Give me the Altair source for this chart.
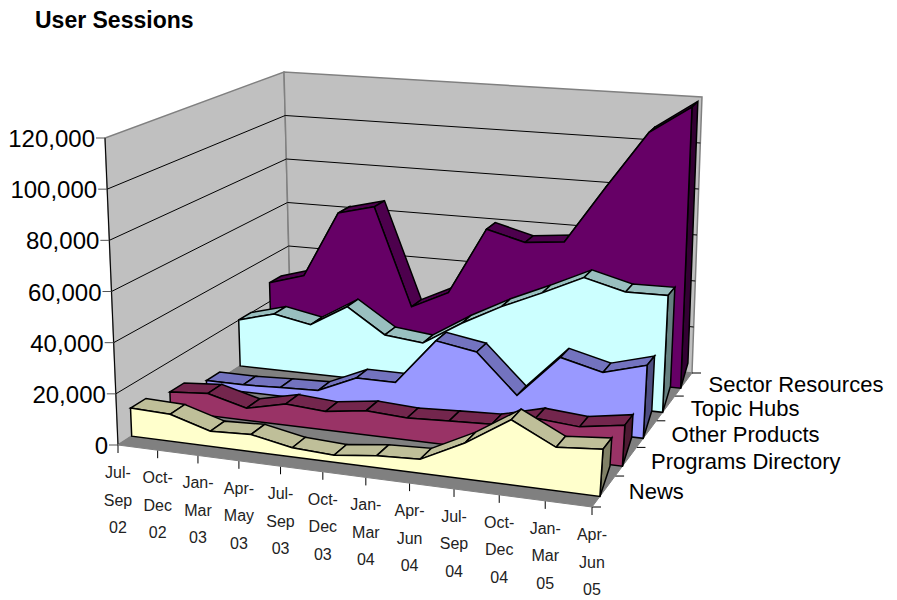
import altair as alt
import pandas as pd

# ---------- chart values ----------
quarters = [["Jul-", "Sep", "02"], ["Oct-", "Dec", "02"], ["Jan-", "Mar", "03"], ["Apr-", "May", "03"],
            ["Jul-", "Sep", "03"], ["Oct-", "Dec", "03"], ["Jan-", "Mar", "04"], ["Apr-", "Jun", "04"],
            ["Jul-", "Sep", "04"], ["Oct-", "Dec", "04"], ["Jan-", "Mar", "05"], ["Apr-", "Jun", "05"]]
series_names = ["News", "Programs Directory", "Other Products", "Topic Hubs", "Sector Resources"]
news = [11100, 10600, 5900, 6600, 3500, 2700, 4600, 5300, 13600, 24500, 16200, 17600]
programs = [7800, 9000, 4900, 8500, 7400, 9600, 8700, 9500, 10200, 14500, 13200, 15900]
other = [2970, 2950, 3600, 4170, 11200, 11150, 30100, 27300, 11400, 28700, 24500, 29200]
hubs = [20100, 24300, 21200, 30600, 20100, 18300, 28400, 37100, 44500, 52500, 48100, 48300]
sector = [28400, 33000, 62400, 66500, 23600, 31400, 60700, 56300, 58000, 83000, 107700, 119800]
all_series = [news, programs, other, hubs, sector]
y_ticks = [0, 20000, 40000, 60000, 80000, 100000, 120000]
y_max = 120000
face_cols = ["#FFFFCC", "#993366", "#9999FF", "#CCFFFF", "#660066"]
top_cols = ["#BFBF99", "#73264D", "#7373BF", "#99BFBF", "#4D004D"]
side_cols = ["#808066", "#4D1A33", "#4D4D80", "#668080", "#330033"]

# ---------- 3-D view: corners of the box as seen on the page ----------
FLB, FLT = (118, 445), (105, 138)
BLB, BLT = (291, 333), (284, 72)
FRB, FRT = (592, 507), (614, 182)
BRB, BRT = (692, 373), (702, 97)
SIDE_LIFT = 7000


def warp(t, a):
    return t / (t + (1 - t) * a) if t > 0 else 0.0


def lerp(p, q, f):
    return (p[0] + (q[0] - p[0]) * f, p[1] + (q[1] - p[1]) * f)


def project(cat, depth, value):
    u = warp(cat, 1.095)
    z = warp(depth, 0.832)
    h = value / y_max
    fb, ft = lerp(FLB, FRB, u), lerp(FLT, FRT, u)
    bb, bt = lerp(BLB, BRB, u), lerp(BLT, BRT, u)
    return lerp(lerp(fb, bb, z), lerp(ft, bt, z), h)


n = len(quarters) - 1
grids, yticks, texts = [], [], []
pid = 0


def add_poly(store, points, fill):
    global pid
    pid += 1
    for k, (c, d, v) in enumerate(points):
        x, y = project(c, d, v)
        store.append({"pid": pid, "seq": k, "x": x, "y": y, "fill": fill})


def add_line(store, p, q):
    global pid
    pid += 1
    store.append({"pid": pid, "seq": 0, "x": p[0], "y": p[1]})
    store.append({"pid": pid, "seq": 1, "x": q[0], "y": q[1]})


walls = []
add_poly(walls, [(0, 0, 0), (0, 1, 0), (0, 1, y_max), (0, 0, y_max)], "#C0C0C0")
add_poly(walls, [(0, 1, 0), (1, 1, 0), (1, 1, y_max), (0, 1, y_max)], "#C0C0C0")
floor = []
add_poly(floor, [(0, 0, 0), (1, 0, 0), (1, 1, 0), (0, 1, 0)], "#808080")

for v in y_ticks[1:-1]:
    a, b, c = project(0, 0, v), project(0, 1, v), project(1, 1, v)
    add_line(grids, a, b)
    add_line(grids, b, c)
add_line(grids, project(0, 0, 0), project(0, 0, y_max))

bodies = []
for s in range(4, -1, -1):
    vals = all_series[s]
    d0, d1 = (s + 1 / 3) / 5, (s + 0.72) / 5
    for i in range(n):
        c0, c1 = i / n, (i + 1) / n
        add_poly(bodies, [(c0, d0, vals[i]), (c1, d0, vals[i + 1]), (c1, d1, vals[i + 1]), (c0, d1, vals[i])], top_cols[s])
    add_poly(bodies, [(1, d0, 0), (1, d1, SIDE_LIFT), (1, d1, vals[-1]), (1, d0, vals[-1])], side_cols[s])
    front = [(i / n, d0, vals[i]) for i in range(n + 1)] + [(1, d0, 0), (0, d0, 0)]
    add_poly(bodies, front, face_cols[s])

# ticks and labels
for v in y_ticks:
    x, y = project(0, 0, v)
    add_line(yticks, (x - 9, y), (x, y))
    texts.append({"x": x - 10, "y": y + 2, "t": f"{v:,}", "size": 24, "font": "Liberation Sans", "align": "right", "color": "#000000", "weight": "normal"})
for i, q in enumerate(quarters):
    x, y = project(i / n, 0, 0)
    add_line(grids, (x, y), (x, y + 8))
    for j, word in enumerate(q):
        texts.append({"x": x, "y": y + 28 + j * 27.5, "t": word, "size": 16, "font": "Liberation Sans", "align": "center", "color": "#222222", "weight": "normal"})
for d in range(6):
    x, y = project(1, d / 5, 0)
    add_line(grids, (x, y), (x + 9, y))
for s, name in enumerate(series_names):
    x, y = project(1, (s + 0.5) / 5, 0)
    texts.append({"x": x + 25, "y": y + 1, "t": name, "size": 22, "font": "Liberation Sans", "align": "left", "color": "#000000", "weight": "normal"})
texts.append({"x": 35, "y": 21, "t": "User Sessions", "size": 23, "font": "Liberation Sans", "align": "left", "color": "#000000", "weight": "bold"})

xs = alt.Scale(domain=[8, 889], range=[0, 881])
ys = alt.Scale(domain=[8, 592], range=[0, 584])
X = alt.X("x:Q", scale=xs, axis=None)
Y = alt.Y("y:Q", scale=ys, axis=None)


def poly_layer(rows, stroke, sw):
    return alt.Chart(pd.DataFrame(rows)).mark_line(
        interpolate="linear-closed", stroke=stroke, strokeWidth=sw, strokeJoin="miter"
    ).encode(x=X, y=Y, detail="pid:N", fill=alt.Fill("fill:N", scale=None), order=alt.Order("seq:Q"))


def line_layer(rows, color):
    return alt.Chart(pd.DataFrame(rows)).mark_line(stroke=color, strokeWidth=1).encode(
        x=X, y=Y, detail="pid:N", order=alt.Order("seq:Q"))


layers = [poly_layer(walls, "#808080", 1.5), line_layer(grids, "#000000"), line_layer(yticks, "#555555"),
          poly_layer(floor, "#808080", 1), poly_layer(bodies, "#000000", 1.5)]
tdf = pd.DataFrame(texts)
for (font, size, weight, align, color), g in tdf.groupby(["font", "size", "weight", "align", "color"]):
    layers.append(alt.Chart(g).mark_text(font=font, fontSize=int(size), fontWeight=weight, align=align, baseline="middle", color=color).encode(
        x=X, y=Y, text="t:N"))

chart = alt.layer(*layers).properties(width=881, height=584, padding=0).configure_view(stroke=None)
chart.save("out.html", embed_options={"renderer": "svg", "actions": False})
